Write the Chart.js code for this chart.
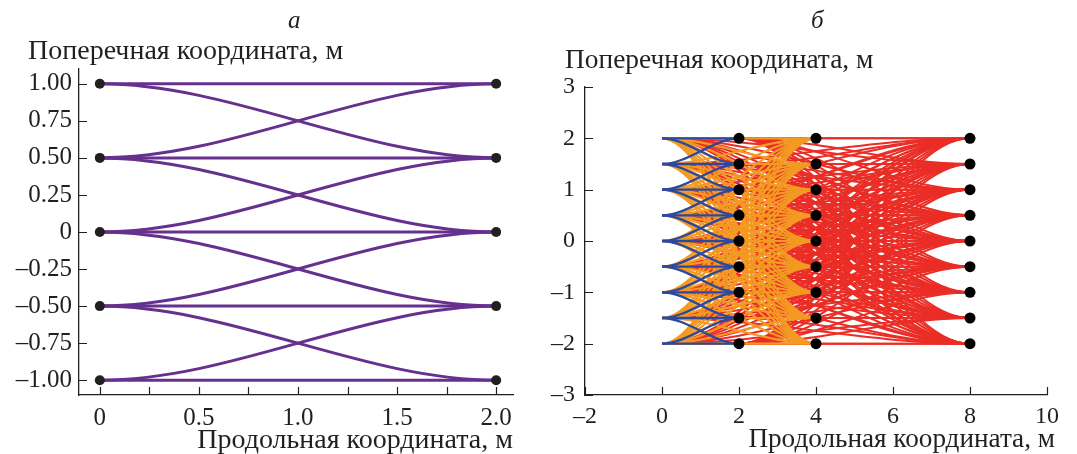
<!DOCTYPE html>
<html lang="ru">
<head>
  <meta charset="UTF-8">
  <title>Сетка траекторий</title>
  <script src="https://cdn.jsdelivr.net/npm/chart.js"></script>
  <style>
    body {
      margin: 0;
      width: 1077px;
      height: 454px;
      position: relative;
      background: #fff;
      font-family: "Liberation Serif", "DejaVu Serif", serif;
      color: #231f20;
      overflow: hidden;
    }
    canvas { position: absolute; top: 0; }
    #chartA { left: 0; }
    #chartB { left: 540px; }
    .txt {
      position: absolute;
      white-space: nowrap;
      font-size: 28px;
      line-height: 30px;
    }
    .letter { font-style: italic; font-size: 25px; }
  </style>
</head>
<body>
  <canvas id="chartA" width="540" height="454"></canvas>
  <canvas id="chartB" width="537" height="454"></canvas>

  <div class="txt letter" style="left:288px; top:5px;">а</div>
  <div class="txt letter" style="left:811px; top:5px;">б</div>
  <div class="txt" style="left:28px; top:35px;">Поперечная координата, м</div>
  <div class="txt" style="left:565px; top:44px; font-size:27.4px;">Поперечная координата, м</div>
  <div class="txt" style="right:564px; top:424px;">Продольная координата, м</div>
  <div class="txt" style="right:22px; top:423px; font-size:27.2px;">Продольная координата, м</div>

  <script>
    // ---- панель а ----
    const levelsA = [-1, -0.5, 0, 0.5, 1];
    const stationsA = [0, 2];
    const shiftsA = [-0.5, 0, 0.5];
    const xTicksA = [0, 0.25, 0.5, 0.75, 1, 1.25, 1.5, 1.75, 2];
    const xLabelsA = ['0', '', '0.5', '', '1.0', '', '1.5', '', '2.0'];
    const yTicksA = [-1, -0.75, -0.5, -0.25, 0, 0.25, 0.5, 0.75, 1];
    const yLabelsA = ['–1.00', '–0.75', '–0.50', '–0.25', '0', '0.25', '0.50', '0.75', '1.00'];

    // ---- панель б ----
    const levelsB = [-2, -1.5, -1, -0.5, 0, 0.5, 1, 1.5, 2];
    const dotStationsB = [2, 4, 8];
    const blueShifts = [-0.5, 0, 0.5];
    const blueFrom = [0], blueTo = 2;
    const orangeFrom = [0], orangeTo = 4;
    const redFrom = [0, 2], redTo = 8;
    const xTicksB = [-2, 0, 2, 4, 6, 8, 10];
    const xLabelsB = ['–2', '0', '2', '4', '6', '8', '10'];
    const yTicksB = [-3, -2, -1, 0, 1, 2, 3];
    const yLabelsB = ['–3', '–2', '–1', '0', '1', '2', '3'];

    const INK = '#231f20';

    function links(fromX, toX, levels, shifts) {
      const out = [];
      levels.forEach(y0 => {
        const targets = shifts ? shifts.map(s => y0 + s) : levels;
        targets.forEach(y1 => {
          if (levels.includes(y1)) out.push([{x: fromX, y: y0}, {x: toX, y: y1}]);
        });
      });
      return out;
    }

    function nodes(stations, levels) {
      const pts = [];
      stations.forEach(x => levels.forEach(y => pts.push({x: x, y: y})));
      return pts;
    }

    function curveSets(list, color, width, order) {
      return list.map(d => ({
        data: d, smooth: true, borderColor: color, borderWidth: width,
        pointRadius: 0, showLine: false, order: order
      }));
    }

    // плавная кривая между двумя узлами (горизонтальные касательные на концах)
    const smoothLinks = {
      id: 'smoothLinks',
      beforeDatasetDraw(chart, args) {
        const ds = chart.data.datasets[args.index];
        if (!ds.smooth) return;
        const p0 = args.meta.data[0], p1 = args.meta.data[1];
        const a = chart.chartArea;
        const ctx = chart.ctx;
        const dx = (p1.x - p0.x) / 3;
        ctx.save();
        ctx.beginPath();
        ctx.rect(a.left, a.top, a.right - a.left, a.bottom - a.top);
        ctx.clip();
        ctx.beginPath();
        ctx.moveTo(p0.x, p0.y);
        ctx.bezierCurveTo(p0.x + dx, p0.y, p1.x - dx, p1.y, p1.x, p1.y);
        ctx.strokeStyle = ds.borderColor;
        ctx.lineWidth = ds.borderWidth;
        ctx.stroke();
        ctx.restore();
        return false;
      }
    };

    // засечки внутрь области графика
    const innerTicks = {
      id: 'innerTicks',
      beforeDatasetsDraw(chart) {
        const {ctx, chartArea} = chart;
        const xs = chart.scales.x, ys = chart.scales.y;
        ctx.save();
        ctx.strokeStyle = INK;
        ctx.lineWidth = 1.2;
        ctx.beginPath();
        xs.ticks.forEach(t => {
          const px = Math.round(xs.getPixelForValue(t.value)) + 0.5;
          ctx.moveTo(px, chartArea.bottom);
          ctx.lineTo(px, chartArea.bottom - 8);
        });
        ys.ticks.forEach(t => {
          const py = Math.round(ys.getPixelForValue(t.value)) + 0.5;
          ctx.moveTo(chartArea.left, py);
          ctx.lineTo(chartArea.left + 8, py);
        });
        ctx.stroke();
        ctx.restore();
      }
    };

    function axis(min, max, values, labels, fit, pad, size) {
      return {
        type: 'linear', min: min, max: max,
        afterBuildTicks: s => { s.ticks = values.map(v => ({value: v})); },
        afterFit: fit,
        grid: {display: false, drawTicks: false},
        border: {display: true, color: INK, width: 1.3},
        ticks: {
          callback: (v, i) => labels[i],
          autoSkip: false, maxRotation: 0, padding: pad, color: INK,
          font: {family: 'Liberation Serif', size: size}
        }
      };
    }

    function baseOptions(pad, scales) {
      return {
        responsive: false,
        animation: false,
        devicePixelRatio: 1,
        layout: {padding: pad},
        plugins: {legend: {display: false}, tooltip: {enabled: false}},
        scales: scales
      };
    }

    // панель а
    const purple = '#66308f';
    const edgesA = links(stationsA[0], stationsA[1], levelsA, shiftsA);
    new Chart(document.getElementById('chartA'), {
      type: 'scatter',
      data: {
        datasets: [
          {data: nodes(stationsA, levelsA), pointRadius: 5, pointBackgroundColor: INK,
           pointBorderWidth: 0, order: 0}
        ].concat(curveSets(edgesA, purple, 3, 1))
      },
      options: baseOptions({left: 0, right: 27, top: 69, bottom: 0}, {
        x: axis(-0.105, 2.085, xTicksA, xLabelsA, s => { s.height = 59; }, 8, 25),
        y: axis(-1.1, 1.1, yTicksA, yLabelsA, s => { s.width = 79; }, 7, 25)
      }),
      plugins: [innerTicks, smoothLinks]
    });

    // панель б
    let blue = [], orange = [], red = [];
    blueFrom.forEach(x0 => { blue = blue.concat(links(x0, blueTo, levelsB, blueShifts)); });
    orangeFrom.forEach(x0 => { orange = orange.concat(links(x0, orangeTo, levelsB)); });
    redFrom.forEach(x0 => { red = red.concat(links(x0, redTo, levelsB)); });

    new Chart(document.getElementById('chartB'), {
      type: 'scatter',
      data: {
        datasets: [
          {data: nodes(dotStationsB, levelsB), pointRadius: 5.5, pointBackgroundColor: '#000',
           pointBorderWidth: 0, order: 0}
        ]
          .concat(curveSets(blue, '#2b4a9f', 2.3, 1))
          .concat(curveSets(orange, '#f39a22', 2.1, 2))
          .concat(curveSets(red, '#ea2d26', 2.0, 3))
      },
      options: baseOptions({left: 0, right: 30, top: 87, bottom: 0}, {
        x: axis(-2, 10, xTicksB, xLabelsB, s => { s.height = 59; }, 7, 24),
        y: axis(-3, 3, yTicksB, yLabelsB, s => { s.width = 45; }, 10, 24)
      }),
      plugins: [innerTicks, smoothLinks]
    });
  </script>
</body>
</html>
